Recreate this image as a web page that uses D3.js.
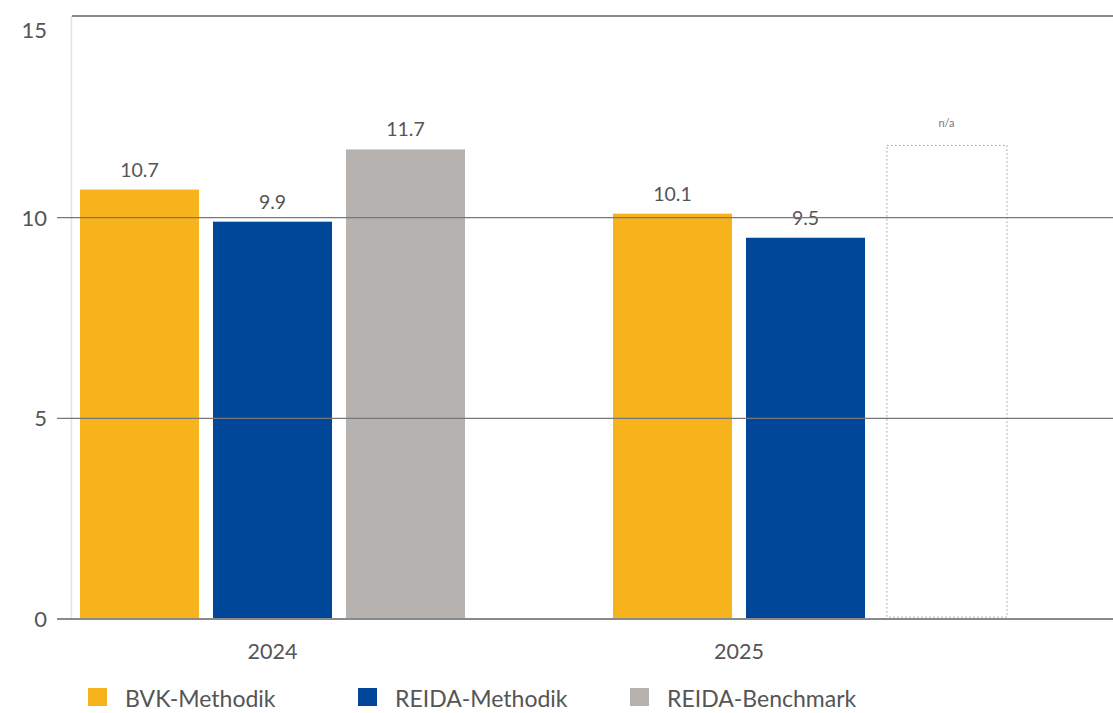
<!DOCTYPE html>
<html><head><meta charset="utf-8">
<script src="https://cdn.jsdelivr.net/npm/d3@7"></script>
<style>body{margin:0;background:#fff;} svg{display:block;}</style>
</head><body>
<svg id="c" width="1113" height="713"></svg>
<script>
const years = ["2024", "2025"];
const seriesNames = ["BVK-Methodik", "REIDA-Methodik", "REIDA-Benchmark"];
const seriesColors = ["#F7B31C", "#00479A", "#B5B2AF"];
const bvkValues = [10.7, 10.1];
const reidaValues = [9.9, 9.5];
const benchmarkValues = [11.7, null];
const naPlaceholder = 11.8;
const yTicks = [0, 5, 10, 15];

const valuesBySeries = [bvkValues, reidaValues, benchmarkValues];
const data = years.map((y, i) => ({year: y, vals: seriesNames.map((s, j) => ({series: s, j, value: valuesBySeries[j][i]}))}));

const svg = d3.select("#c");
const font = "Lato, 'Open Sans', sans-serif";
const txt = "#555";

const y = d3.scaleLinear().domain([0, 15]).range([619, 17]);
const x0 = d3.scaleBand().domain(years).range([80, 998]).paddingInner(0.2777);
const x1 = d3.scaleBand().domain(seriesNames).range([0, x0.bandwidth()]).paddingInner(0.105);

// y-axis line
svg.append("line").attr("x1", 71.5).attr("x2", 71.5).attr("y1", 16).attr("y2", 619)
  .attr("stroke", "#e4e4e4").attr("stroke-width", 1.5);

// value labels (drawn beneath gridlines)
const groups = svg.selectAll("g.grp").data(data).join("g").attr("class", "grp")
  .attr("transform", d => `translate(${x0(d.year)},0)`);

groups.selectAll("text.val").data(d => d.vals.filter(v => v.value != null)).join("text")
  .attr("class", "val")
  .attr("x", d => x1(d.series) + x1.bandwidth() / 2)
  .attr("y", d => y(d.value) - 13)
  .attr("text-anchor", "middle").attr("font-family", font).attr("font-size", 19.5)
  .attr("fill", txt).text(d => d3.format(".1f")(d.value));

// gridlines
yTicks.forEach(t => {
  const isEdge = (t === 0 || t === 15);
  svg.append("line").attr("x1", t === 15 ? 72 : 57).attr("x2", 1113)
    .attr("y1", y(t) - (t===15?1:0)).attr("y2", y(t) - (t===15?1:0))
    .attr("stroke", isEdge ? "#8a8a8a" : "#777").attr("stroke-width", isEdge ? 2 : 1.2);
});

// y tick labels
svg.selectAll("text.yt").data(yTicks).join("text").attr("class", "yt")
  .attr("x", 47).attr("y", d => Math.max(y(d), 30))
  .attr("dy", "0.36em").attr("text-anchor", "end")
  .attr("font-family", font).attr("font-size", 22).attr("fill", txt).text(d => d);

// bars
groups.selectAll("rect.bar").data(d => d.vals.filter(v => v.value != null)).join("rect")
  .attr("class", "bar")
  .attr("x", d => x1(d.series))
  .attr("y", d => y(d.value))
  .attr("width", x1.bandwidth())
  .attr("height", d => y(0) - y(d.value))
  .attr("fill", d => seriesColors[d.j]);

// n/a placeholder boxes
groups.selectAll("rect.na").data(d => d.vals.filter(v => v.value == null)).join("rect")
  .attr("class", "na")
  .attr("x", d => x1(d.series) + 8)
  .attr("y", y(naPlaceholder))
  .attr("width", x1.bandwidth() + 1)
  .attr("height", y(0) - y(naPlaceholder) - 2)
  .attr("fill", "none").attr("stroke", "#999").attr("stroke-width", 1)
  .attr("stroke-dasharray", "1.5,2.5");
groups.selectAll("text.na").data(d => d.vals.filter(v => v.value == null)).join("text")
  .attr("class", "na")
  .attr("x", d => x1(d.series) + 8 + x1.bandwidth() / 2)
  .attr("y", y(naPlaceholder) - 18)
  .attr("text-anchor", "middle").attr("font-family", font).attr("font-size", 11)
  .attr("fill", "#777").text("n/a");

// year labels, centered on the bars that carry values
groups.append("text")
  .attr("x", d => {
    const present = d.vals.filter(v => v.value != null);
    const a = x1(present[0].series), b = x1(present[present.length - 1].series) + x1.bandwidth();
    return (a + b) / 2;
  })
  .attr("y", 659).attr("text-anchor", "middle")
  .attr("font-family", font).attr("font-size", 21.5).attr("fill", txt).text(d => d.year);

// legend
const legX = [88, 358, 630];
const leg = svg.selectAll("g.leg").data(seriesNames).join("g").attr("class", "leg")
  .attr("transform", (d, i) => `translate(${legX[i]},688)`);
leg.append("rect").attr("width", 19).attr("height", 18).attr("fill", (d, i) => seriesColors[i]);
leg.append("text").attr("x", 37).attr("y", 19).attr("font-family", font).attr("font-size", 23)
  .attr("fill", txt).text(d => d);
</script>
</body></html>
